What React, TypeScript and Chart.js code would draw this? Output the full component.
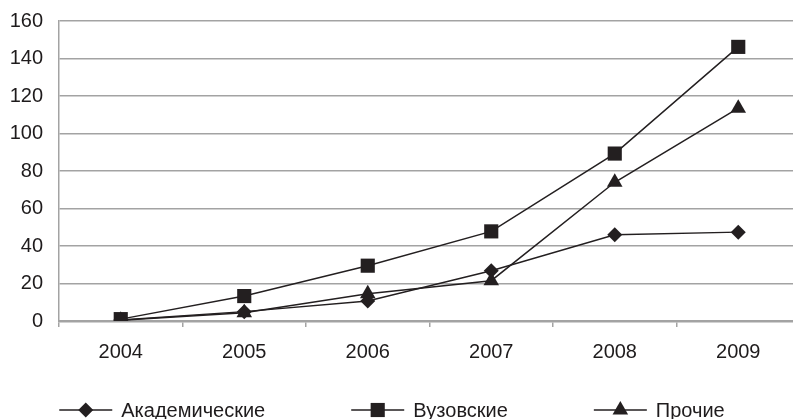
import { useEffect, useRef } from "react";
import { Chart, registerables } from "chart.js";

Chart.register(...registerables);

const years = ["2004", "2005", "2006", "2007", "2008", "2009"];
const seriesNames = ["Академические", "Вузовские", "Прочие"];
const academic = [0.5, 5, 10.7, 26.8, 46, 47.4];
const university = [1, 13.3, 29.5, 47.8, 89.3, 146.2];
const other = [0.4, 4.4, 14.5, 21.5, 74, 113.5];
const yMin = 0;
const yMax = 160;
const yStep = 20;

const FONT = "'Liberation Sans', Arial, sans-serif";
const TEXT = "#1e1b1c";
const GRID = "#a3a3a3";
const LINE = "#231f20";

function marker(ctx: CanvasRenderingContext2D, style: string, r: number, x: number, y: number) {
  ctx.beginPath();
  if (style === "rectRot") {
    ctx.moveTo(x - r, y);
    ctx.lineTo(x, y - r);
    ctx.lineTo(x + r, y);
    ctx.lineTo(x, y + r);
  } else if (style === "rect") {
    const s = Math.SQRT1_2 * r;
    ctx.rect(x - s, y - s, 2 * s, 2 * s);
  } else {
    for (let i = 0; i < 3; i++) {
      const a = (i * 2 * Math.PI) / 3;
      const px = x + Math.sin(a) * r;
      const py = y - Math.cos(a) * r;
      if (i === 0) ctx.moveTo(px, py);
      else ctx.lineTo(px, py);
    }
  }
  ctx.closePath();
  ctx.fill();
}

const lineLegend = {
  id: "lineLegend",
  afterDraw(chart: any) {
    const o = chart.options.plugins.lineLegend;
    const ctx: CanvasRenderingContext2D = chart.ctx;
    ctx.save();
    ctx.font = `${o.fontSize}px ${FONT}`;
    const ds = chart.data.datasets;
    const widths = ds.map((d: any) => o.lineLen + o.textGap + ctx.measureText(d.label).width);
    const total = widths.reduce((a: number, b: number) => a + b, 0) + o.itemGap * (ds.length - 1);
    let x = o.centerX - total / 2;
    const y = o.y;
    ds.forEach((d: any, i: number) => {
      ctx.strokeStyle = d.borderColor;
      ctx.lineWidth = d.borderWidth;
      ctx.beginPath();
      ctx.moveTo(x, y);
      ctx.lineTo(x + o.lineLen, y);
      ctx.stroke();
      ctx.fillStyle = d.pointBackgroundColor;
      marker(ctx, d.pointStyle, d.pointRadius, x + o.lineLen / 2, y);
      ctx.fillStyle = TEXT;
      ctx.textBaseline = "middle";
      ctx.textAlign = "left";
      ctx.fillText(d.label, x + o.lineLen + o.textGap, y + 1);
      x += widths[i] + o.itemGap;
    });
    ctx.restore();
  },
};

export default function App() {
  const ref = useRef<HTMLCanvasElement>(null);

  useEffect(() => {
    if (!ref.current) return;
    const mk = (label: string, data: number[], style: string, r: number) => ({
      label,
      data,
      borderColor: LINE,
      borderWidth: 1.5,
      pointStyle: style,
      pointRadius: r,
      pointHoverRadius: r,
      pointBackgroundColor: LINE,
      pointBorderColor: LINE,
      pointBorderWidth: 0,
      tension: 0,
      fill: false,
    });
    const chart = new Chart(ref.current, {
      type: "line",
      data: {
        labels: years,
        datasets: [
          mk(seriesNames[0], academic, "rectRot", 7.5),
          mk(seriesNames[1], university, "rect", 10),
          mk(seriesNames[2], other, "triangle", 9),
        ],
      },
      options: {
        responsive: false,
        animation: false,
        layout: { padding: { top: 21, right: 8, left: 0, bottom: 0 } },
        plugins: {
          legend: { display: false },
          tooltip: { enabled: false },
          lineLegend: { centerX: 392, y: 410, lineLen: 53, textGap: 9, itemGap: 86, fontSize: 20 },
        } as any,
        scales: {
          x: {
            offset: true,
            grid: {
              offset: true,
              drawOnChartArea: false,
              drawTicks: true,
              tickLength: 6,
              color: GRID,
              lineWidth: 1.5,
            },
            border: { color: GRID, width: 2.5 },
            ticks: { color: TEXT, font: { family: FONT, size: 20 }, padding: 13 },
            afterFit: (s: any) => {
              s.height = 98;
            },
          },
          y: {
            min: yMin,
            max: yMax,
            grid: { color: GRID, lineWidth: 1.5, drawTicks: false },
            border: { color: GRID, width: 1.5 },
            ticks: { stepSize: yStep, color: TEXT, font: { family: FONT, size: 20 }, padding: 16 },
            afterFit: (s: any) => {
              s.width = 59;
              s.paddingTop = 0;
              s.paddingBottom = 0;
            },
          },
        },
      },
      plugins: [lineLegend],
    } as any);
    return () => chart.destroy();
  }, []);

  return (
    <div style={{ position: "fixed", left: 0, top: 0, width: 793, height: 419, overflow: "hidden", background: "#fff" }}>
      <canvas ref={ref} width={810} height={419} style={{ width: 810, height: 419, display: "block" }} />
    </div>
  );
}
